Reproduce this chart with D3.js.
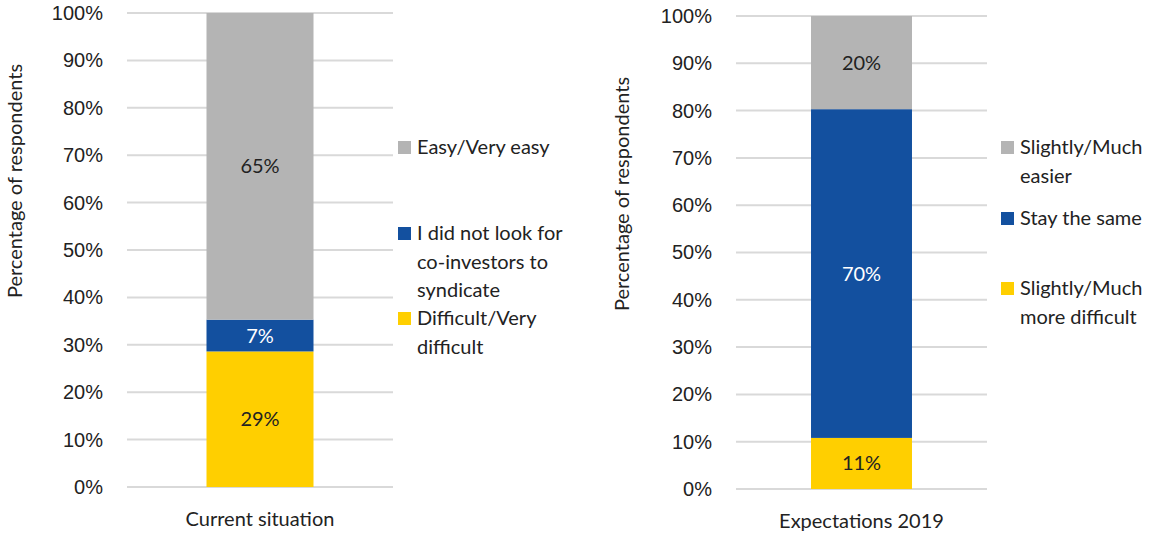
<!DOCTYPE html>
<html>
<head>
<meta charset="utf-8">
<script src="https://cdnjs.cloudflare.com/ajax/libs/d3/7.8.5/d3.min.js"></script>
<style>
  body { margin: 0; background: #fff; font-family: 'Lato', 'Noto Sans', sans-serif; }
  text { fill: #222; }
</style>
</head>
<body>
<svg id="chart" width="1156" height="534"></svg>
<script>
// tick labels
var yTicks = [0, 10, 20, 30, 40, 50, 60, 70, 80, 90, 100];

// left panel
var leftCategory = ["Current situation"];
var leftSeries = ["Difficult/Very difficult", "I did not look for co-investors to syndicate", "Easy/Very easy"];
var leftValues = [28.6, 6.7, 64.7];
var leftLabels = ["29%", "7%", "65%"];
var leftLegend = [["Easy/Very easy"], ["I did not look for", "co-investors to", "syndicate"], ["Difficult/Very", "difficult"]];

// right panel
var rightCategory = ["Expectations 2019"];
var rightSeries = ["Slightly/Much more difficult", "Stay the same", "Slightly/Much easier"];
var rightValues = [10.8, 69.5, 19.7];
var rightLabels = ["11%", "70%", "20%"];
var rightLegend = [["Slightly/Much", "easier"], ["Stay the same"], ["Slightly/Much", "more difficult"]];

var colors = ["#ffcf00", "#13509f", "#b4b4b4"];
var labelColors = ["#222222", "#ffffff", "#222222"];
var legendColors = [colors[2], colors[1], colors[0]];

var fs = "20px";
var svg = d3.select("#chart");

function drawPanel(opt) {
  var g = svg.append("g");
  var y = d3.scaleLinear().domain([0, 100]).range([opt.bottom, opt.top]);
  var x = d3.scaleBand().domain(opt.category).range([opt.left, opt.right]).paddingInner(0).paddingOuter(0.743);

  // gridlines
  g.append("g").selectAll("line").data(yTicks).enter().append("line")
    .attr("x1", opt.left).attr("x2", opt.right)
    .attr("y1", function (d) { return y(d); }).attr("y2", function (d) { return y(d); })
    .attr("stroke", "#d9d9d9").attr("stroke-width", 2);

  // y axis
  var axis = g.append("g")
    .attr("transform", "translate(" + (opt.left - 12) + ",0)")
    .call(d3.axisLeft(y).tickValues(yTicks).tickSize(0).tickPadding(12).tickFormat(function (d) { return d + "%"; }));
  axis.select(".domain").remove();
  axis.selectAll("text").style("font-size", fs).style("font-family", "inherit").attr("fill", "#222");

  // stacked segments
  var stacked = [];
  var acc = 0;
  opt.values.forEach(function (v, i) {
    stacked.push({ y0: acc, y1: acc + v, i: i });
    acc += v;
  });
  g.append("g").selectAll("rect").data(stacked).enter().append("rect")
    .attr("x", x(opt.category[0]))
    .attr("width", x.bandwidth())
    .attr("y", function (d) { return y(d.y1); })
    .attr("height", function (d) { return y(d.y0) - y(d.y1); })
    .attr("fill", function (d) { return colors[d.i]; });

  g.append("g").selectAll("text").data(stacked).enter().append("text")
    .attr("x", x(opt.category[0]) + x.bandwidth() / 2)
    .attr("y", function (d) { return y((d.y0 + d.y1) / 2); })
    .attr("dy", "0.35em")
    .attr("text-anchor", "middle")
    .style("font-size", fs)
    .style("fill", function (d) { return labelColors[d.i]; })
    .text(function (d) { return opt.labels[d.i]; });

  // category label
  g.append("text")
    .attr("x", x(opt.category[0]) + x.bandwidth() / 2)
    .attr("y", opt.bottom + 32)
    .attr("dy", "0.35em")
    .attr("text-anchor", "middle")
    .style("font-size", fs)
    .text(opt.category[0]);

  // y title
  g.append("text")
    .attr("transform", "translate(" + opt.titleX + "," + opt.titleY + ") rotate(-90)")
    .attr("text-anchor", "middle")
    .attr("dy", "0.35em")
    .style("font-size", fs)
    .text("Percentage of respondents");

  // legend
  var lg = g.append("g");
  opt.legend.forEach(function (lines, i) {
    var ly = opt.legendY[i];
    lg.append("rect")
      .attr("x", opt.legendX).attr("y", ly - 6)
      .attr("width", 13).attr("height", 13)
      .attr("fill", legendColors[i]);
    lines.forEach(function (t, j) {
      lg.append("text")
        .attr("x", opt.legendX + 19)
        .attr("y", ly + j * 28.5)
        .attr("dy", "0.35em")
        .style("font-size", fs)
        .text(t);
    });
  });
}

drawPanel({
  left: 127, right: 393, top: 13, bottom: 487,
  category: leftCategory, values: leftValues, labels: leftLabels,
  titleX: 15, titleY: 181,
  legend: leftLegend, legendX: 398, legendY: [147, 233, 318]
});

drawPanel({
  left: 736, right: 987, top: 16, bottom: 489,
  category: rightCategory, values: rightValues, labels: rightLabels,
  titleX: 622, titleY: 194,
  legend: rightLegend, legendX: 1001, legendY: [147, 218, 288]
});
</script>
</body>
</html>
